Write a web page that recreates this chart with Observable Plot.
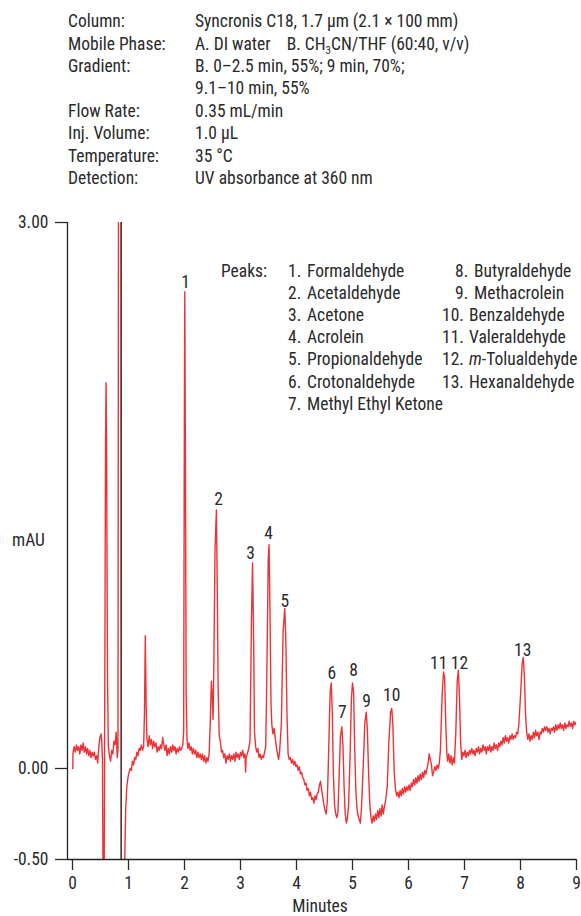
<!DOCTYPE html>
<html><head><meta charset="utf-8">
<script src="https://cdn.jsdelivr.net/npm/d3@7"></script>
<script src="https://cdn.jsdelivr.net/npm/@observablehq/plot@0.6"></script>
<style>
body{margin:0;background:#fff;}
#wrap{position:relative;width:581px;height:916px;overflow:hidden;color:#2a2a2a;font-weight:400;
  font-family:"Liberation Sans Narrow","Arial Narrow","Nimbus Sans Narrow","Roboto Condensed","Liberation Sans",sans-serif;font-size:17.5px;}
#wrap svg{position:absolute;left:0;top:0;}
.abs{position:absolute;white-space:nowrap;line-height:1;}
sub{font-size:11px;vertical-align:-4px;line-height:0;}
</style></head><body><div id="wrap"></div>
<script>
const FONT = '"Liberation Sans Narrow","Arial Narrow","Nimbus Sans Narrow","Roboto Condensed","Liberation Sans",sans-serif';

// ---- method conditions ----
const condLabels = ["Column:", "Mobile Phase:", "Gradient:", "", "Flow Rate:", "Inj. Volume:", "Temperature:", "Detection:"];
const condValues = ["Syncronis C18, 1.7 µm (2.1 × 100 mm)",
  "A. DI water&nbsp;&nbsp;&nbsp; B. CH<sub>3</sub>CN/THF (60:40, v/v)",
  "B. 0–2.5 min, 55%; 9 min, 70%;",
  "9.1–10 min, 55%",
  "0.35 mL/min", "1.0 µL", "35 °C", "UV absorbance at 360 nm"];

// ---- peak list ----
const peakNumbers = [1,2,3,4,5,6,7,8,9,10,11,12,13];
const peakNames = ["Formaldehyde","Acetaldehyde","Acetone","Acrolein","Propionaldehyde","Crotonaldehyde",
  "Methyl Ethyl Ketone","Butyraldehyde","Methacrolein","Benzaldehyde","Valeraldehyde","<i>m</i>-Tolualdehyde","Hexanaldehyde"];
// label anchor (minutes, mAU)
const labelTimes  = [2.02,2.61,3.18,3.50,3.79,4.63,4.82,5.02,5.25,5.70,6.54,6.91,8.04];
const labelValues = [2.67,1.48,1.18,1.29,0.92,0.52,0.31,0.54,0.37,0.40,0.58,0.58,0.65];

// ---- axes ----
const xTicks = [0,1,2,3,4,5,6,7,8,9];
const yTicks = [-0.5, 0, 3];
const yDomain = [-0.5, 3];
const xDomain = [-5/56, 9];
const injectionMarker = [0.87];

// ---- detector trace [minutes, mAU] ----
const traceStart = [
 [0,0],[0.005,0],[0.01,0.09],[0.03,0.12],[0.05,0.09],[0.07,0.13],[0.09,0.10],[0.11,0.12],[0.13,0.08],[0.15,0.13],
 [0.17,0.10],[0.19,0.14],[0.21,0.09],[0.23,0.12],[0.25,0.08],[0.27,0.11],[0.29,0.07],[0.31,0.10],[0.33,0.06],[0.35,0.09],
 [0.37,0.07],[0.39,0.09],[0.41,0.05],[0.43,0.07],[0.45,0.03],[0.47,0.12],[0.49,0.17],[0.51,0.19],[0.52,0.16],[0.535,0.05],
 [0.545,-0.6],[0.565,-0.6],[0.575,0.3],[0.59,1.8],[0.60,2.12],[0.61,1.7],[0.625,0.5],[0.64,0.12],[0.66,0.07],[0.68,0.04],
 [0.70,0.10],[0.72,0.08],[0.74,0.15],[0.76,0.13],[0.78,0.20],[0.80,0.06],[0.812,0.10],[0.822,3.5],[0.866,3.5],[0.872,-0.6],
 [0.927,-0.6],[0.935,-0.45],[0.95,-0.22],[0.97,-0.10],[0.99,-0.05],[1.01,-0.02],[1.03,0.00],[1.05,-0.01],[1.07,0.04],[1.09,0.02],
 [1.11,0.06],[1.13,0.05],[1.15,0.09],[1.17,0.07],[1.19,0.11],[1.21,0.10],[1.23,0.13],[1.25,0.10],[1.27,0.12],[1.285,0.30],
 [1.30,0.73],[1.315,0.35],[1.33,0.16],[1.35,0.12],[1.37,0.18],[1.39,0.13],[1.41,0.16],[1.43,0.11],[1.45,0.15],[1.47,0.12],
 [1.49,0.14],[1.51,0.09],[1.53,0.12],[1.55,0.10],[1.57,0.13],[1.59,0.11],[1.61,0.17],[1.63,0.13],[1.65,0.10],[1.67,0.13],
 [1.69,0.07],[1.71,0.11],[1.73,0.08],[1.75,0.12],[1.77,0.09],[1.79,0.13],[1.81,0.10],[1.83,0.12],[1.85,0.08],[1.87,0.11],
 [1.89,0.09],[1.91,0.12],[1.93,0.10],[1.95,0.11],[1.97,0.13]
];
const tracePeaks1to5 = [
 [1.985,0.2],[1.995,1.6],[2.005,2.62],[2.015,1.8],[2.03,0.4],[2.045,0.16],[2.06,0.11],[2.08,0.14],[2.10,0.10],[2.12,0.12],
 [2.14,0.08],[2.16,0.11],[2.18,0.08],[2.20,0.10],[2.22,0.06],[2.24,0.09],[2.26,0.06],[2.28,0.08],[2.30,0.05],[2.32,0.08],
 [2.34,0.04],[2.36,0.07],[2.38,0.03],[2.40,0.06],[2.42,0.04],[2.44,0.08],[2.46,0.25],[2.48,0.48],[2.495,0.40],[2.51,0.27],
 [2.525,0.60],[2.545,1.2],[2.57,1.42],[2.585,1.0],[2.60,0.45],[2.62,0.18],[2.64,0.15],[2.66,0.09],[2.68,0.10],[2.70,0.06],
 [2.72,0.08],[2.74,0.03],[2.76,0.07],[2.78,0.05],[2.80,0.08],[2.82,0.04],[2.84,0.07],[2.86,0.05],[2.88,0.08],[2.90,0.04],
 [2.92,0.09],[2.94,0.06],[2.96,0.08],[2.98,0.05],[3.00,0.09],[3.02,0.07],[3.04,0.10],[3.06,0.06],[3.08,0.08],[3.09,-0.02],
 [3.10,0.06],[3.12,0.08],[3.14,0.10],[3.17,0.15],[3.195,0.8],[3.215,1.13],[3.235,0.7],[3.25,0.2],[3.27,0.12],[3.29,0.09],
 [3.31,0.11],[3.33,0.06],[3.35,0.08],[3.37,0.05],[3.39,0.07],[3.41,0.06],[3.43,0.09],[3.45,0.12],[3.47,0.5],[3.495,1.15],
 [3.51,1.23],[3.525,0.9],[3.545,0.35],[3.56,0.24],[3.58,0.19],[3.60,0.22],[3.62,0.17],[3.64,0.12],[3.66,0.08],[3.68,0.05],
 [3.70,0.10],[3.73,0.25],[3.76,0.75],[3.79,0.88],[3.81,0.70],[3.83,0.30],[3.85,0.08],[3.87,0.05],[3.89,0.06],[3.91,0.03],
 [3.93,0.05],[3.95,0.02],[3.97,0.04],[3.99,0.01]
];
const tracePeaks6to10 = [
 [4.01,0.02],[4.03,-0.01],[4.05,0.01],[4.07,-0.03],[4.09,-0.02],[4.11,-0.05],[4.13,-0.06],[4.15,-0.09],[4.17,-0.08],[4.19,-0.12],
 [4.21,-0.11],[4.23,-0.15],[4.25,-0.13],[4.27,-0.17],[4.29,-0.16],[4.31,-0.19],[4.33,-0.15],[4.35,-0.17],[4.37,-0.14],[4.39,-0.13],
 [4.41,-0.09],[4.43,-0.07],[4.45,-0.12],[4.47,-0.16],[4.49,-0.20],[4.51,-0.23],[4.53,-0.25],[4.55,-0.18],[4.575,0.1],[4.60,0.42],
 [4.62,0.47],[4.64,0.30],[4.66,-0.05],[4.68,-0.20],[4.70,-0.25],[4.72,-0.27],[4.74,-0.24],[4.76,-0.05],[4.785,0.18],[4.81,0.23],
 [4.83,0.12],[4.85,-0.10],[4.87,-0.25],[4.89,-0.30],[4.91,-0.27],[4.93,-0.20],[4.955,0.05],[4.98,0.38],[5.00,0.47],[5.02,0.42],
 [5.04,0.10],[5.06,-0.12],[5.08,-0.22],[5.10,-0.26],[5.12,-0.28],[5.14,-0.30],[5.16,-0.22],[5.19,0.0],[5.22,0.25],[5.245,0.31],
 [5.265,0.22],[5.29,-0.05],[5.31,-0.20],[5.33,-0.27],[5.35,-0.30],[5.37,-0.26],[5.39,-0.29],[5.41,-0.25],[5.43,-0.28],[5.45,-0.23],
 [5.47,-0.27],[5.49,-0.22],[5.51,-0.26],[5.53,-0.20],[5.55,-0.25],[5.57,-0.21],[5.59,-0.18],[5.62,-0.10],[5.65,0.15],[5.68,0.31],
 [5.70,0.33],[5.72,0.25],[5.745,-0.02],[5.77,-0.12],[5.79,-0.15],[5.81,-0.13],[5.83,-0.16],[5.85,-0.12],[5.87,-0.15],[5.89,-0.11],
 [5.91,-0.14],[5.93,-0.10],[5.95,-0.13],[5.97,-0.10],[5.99,-0.12]
];
const tracePeaks11to13 = [
 [6.01,-0.09],[6.03,-0.12],[6.05,-0.08],[6.07,-0.10],[6.09,-0.06],[6.11,-0.09],[6.13,-0.05],[6.15,-0.08],[6.17,-0.04],[6.19,-0.07],
 [6.21,-0.03],[6.23,-0.06],[6.25,-0.02],[6.27,-0.05],[6.29,-0.01],[6.31,-0.03],[6.33,0.00],[6.35,0.03],[6.37,0.08],[6.39,0.05],
 [6.41,0.02],[6.43,-0.04],[6.45,-0.02],[6.47,0.01],[6.49,-0.01],[6.51,0.02],[6.53,0.00],[6.55,0.03],[6.57,0.10],[6.60,0.40],
 [6.625,0.53],[6.645,0.50],[6.665,0.25],[6.685,0.08],[6.70,0.04],[6.72,0.08],[6.74,0.03],[6.76,0.07],[6.78,0.02],[6.80,0.06],
 [6.82,0.03],[6.845,0.20],[6.87,0.48],[6.89,0.54],[6.91,0.40],[6.93,0.15],[6.95,0.05],[6.97,0.09],[6.99,0.07],[7.01,0.10],
 [7.03,0.06],[7.05,0.09],[7.07,0.07],[7.09,0.10],[7.11,0.08],[7.13,0.11],[7.15,0.08],[7.17,0.10],[7.19,0.07],[7.21,0.11],
 [7.23,0.09],[7.25,0.12],[7.27,0.08],[7.29,0.11],[7.31,0.09],[7.33,0.13],[7.35,0.10],[7.37,0.12],[7.39,0.08],[7.41,0.12],
 [7.43,0.10],[7.45,0.13],[7.47,0.09],[7.49,0.12],[7.51,0.10],[7.53,0.14],[7.55,0.11],[7.57,0.13],[7.59,0.10],[7.61,0.14],
 [7.63,0.12],[7.65,0.15],[7.67,0.13],[7.69,0.17],[7.71,0.14],[7.73,0.18],[7.75,0.15],[7.77,0.17],[7.79,0.14],[7.81,0.18],
 [7.83,0.16],[7.85,0.19],[7.87,0.16],[7.89,0.18],[7.91,0.17],[7.93,0.20],[7.95,0.19],[7.97,0.24],[8.00,0.40],[8.03,0.58],
 [8.05,0.61],[8.07,0.50],[8.09,0.30],[8.11,0.20],[8.13,0.16],[8.15,0.19],[8.17,0.15],[8.19,0.18],[8.21,0.16],[8.23,0.20],
 [8.25,0.17],[8.27,0.21],[8.29,0.18],[8.31,0.20],[8.33,0.16],[8.35,0.20],[8.37,0.19],[8.39,0.22],[8.41,0.20],[8.43,0.23],
 [8.45,0.21],[8.47,0.23],[8.49,0.20],[8.51,0.22],[8.53,0.19],[8.55,0.22],[8.57,0.21],[8.59,0.23],[8.61,0.20],[8.63,0.24],
 [8.65,0.21],[8.67,0.24],[8.69,0.22],[8.71,0.25],[8.73,0.22],[8.75,0.24],[8.77,0.21],[8.79,0.25],[8.81,0.22],[8.83,0.24],
 [8.85,0.23],[8.87,0.26],[8.89,0.23],[8.91,0.25],[8.93,0.22],[8.95,0.26],[8.97,0.24],[9.00,0.26]
];

const trace = [...traceStart, ...tracePeaks1to5, ...tracePeaks6to10, ...tracePeaks11to13]
  .map(([t, v]) => ({t, v}));
const peakLabels = peakNumbers.map((n, i) => ({n: String(n), t: labelTimes[i], v: labelValues[i]}));

const wrap = document.getElementById("wrap");

const chart = Plot.plot({
  width: 581, height: 916,
  marginTop: 222, marginBottom: 57, marginLeft: 67, marginRight: 5,
  style: {fontFamily: FONT, fontSize: "17.5px", fontWeight: 400, color: "#2a2a2a", background: "transparent", overflow: "visible"},
  x: {domain: xDomain},
  y: {domain: yDomain},
  marks: [
    Plot.line(trace, {x: "t", y: "v", stroke: "#ec3237", strokeWidth: 1.4, strokeLinejoin: "round", clip: true}),
    Plot.ruleX(injectionMarker, {y1: yDomain[0], y2: yDomain[1], stroke: "#3a3a3a", strokeWidth: 1.4}),
    Plot.text(peakLabels, {x: "t", y: "v", text: "n", fill: "#2a2a2a", fontSize: 17.5, lineAnchor: "middle"}),
    Plot.axisY({ticks: yTicks, tickSize: 12, tickPadding: 7, tickFormat: d => d.toFixed(2), label: null, strokeWidth: 1.3}),
    Plot.axisX({ticks: xTicks, tickSize: 11, tickPadding: 6, tickFormat: d => String(d), label: null, strokeWidth: 1.3}),
    Plot.ruleX([xDomain[0]], {y1: yDomain[0], y2: yDomain[1], stroke: "#222", strokeWidth: 1.3}),
    Plot.ruleY([yDomain[0]], {stroke: "#222", strokeWidth: 1.3})
  ]
});
wrap.appendChild(chart);

function addText(html, left, baseline, extra) {
  const d = document.createElement("div");
  d.className = "abs";
  d.innerHTML = html;
  d.style.left = left + "px";
  d.style.top = (baseline - 14.8) + "px";
  if (extra) Object.assign(d.style, extra);
  wrap.appendChild(d);
  return d;
}

// header
condLabels.forEach((s, i) => { if (s) addText(s, 68, 28 + i * 22.4); });
condValues.forEach((s, i) => addText(s, 195, 28 + i * 22.4));

// peak list
addText("Peaks:", 221, 277.5);
peakNumbers.forEach((n, i) => {
  const col = i < 7 ? 0 : 1;
  const row = col === 0 ? i : i - 7;
  const base = 277.5 + row * 22.17;
  let numLeft, nameLeft;
  if (col === 0) { numLeft = 288; nameLeft = 307; }
  else if (n < 10) { numLeft = 455; nameLeft = 474; }
  else { numLeft = 442; nameLeft = 469; }
  addText(n + ".", numLeft, base);
  addText(peakNames[i], nameLeft, base);
});

// axis titles
addText("mAU", 12, 547);
addText("Minutes", 0, 913, {width: "640px", textAlign: "center"});
</script></body></html>
